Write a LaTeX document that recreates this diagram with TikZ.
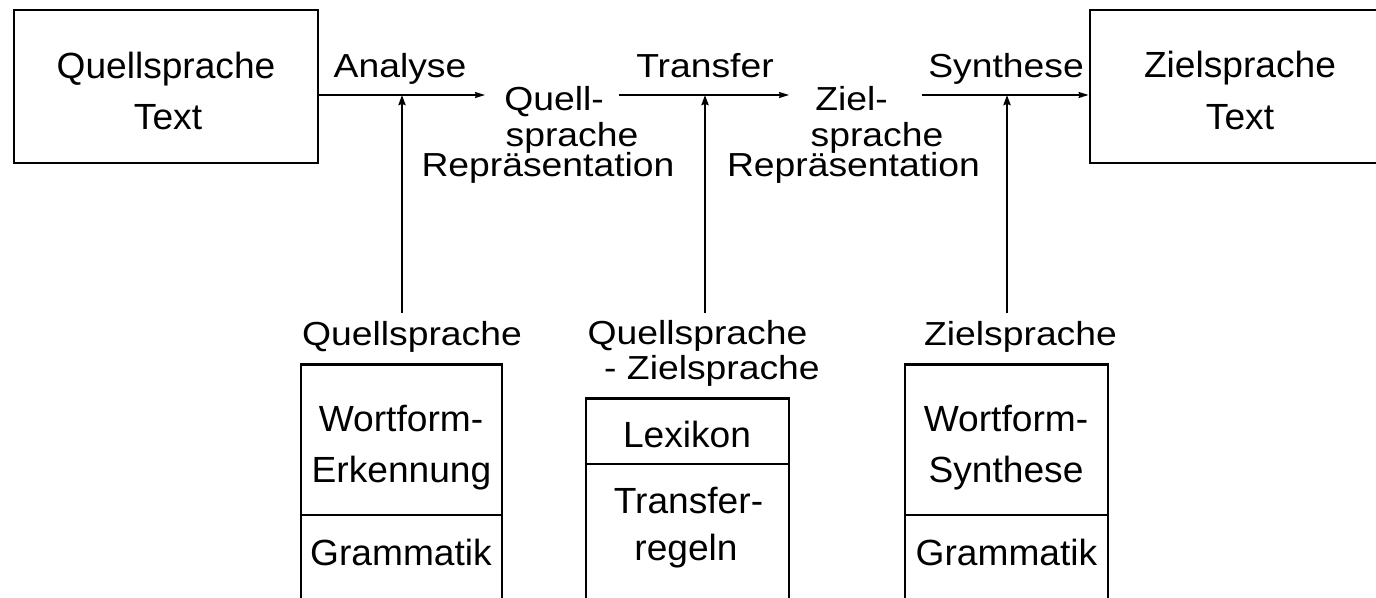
\documentclass[tikz,border=0pt]{standalone}
\usepackage{fontspec}
\setmainfont{Liberation Sans}
\newfontfamily\lblfont{Liberation Sans}[FakeStretch=1.12]
\newfontfamily\boxfont{Liberation Sans}[FakeStretch=1.02]
\usetikzlibrary{arrows.meta}
\begin{document}
\begin{tikzpicture}[x=1pt,y=-1pt,
  lbl/.style={font=\lblfont\fontsize{33.3}{36}\selectfont, inner sep=0pt, anchor=base},
  btxt/.style={font=\boxfont\fontsize{36.4}{40}\selectfont, inner sep=0pt, anchor=base},
  frame/.style={draw, line width=2.8pt, inner sep=0pt},
  harr/.style={line width=1.6pt, -{Stealth[length=10pt,width=6pt,inset=1pt]}},
  varr/.style={line width=2.3pt, -{Stealth[length=10pt,width=7pt,inset=1pt]}},
  rule/.style={line width=2.8pt}]
\useasboundingbox (0,0) rectangle (1376,597);
\clip (0,0) rectangle (1376,597);
\fill[white] (0,0) rectangle (1376,597);

% top boxes
\node[frame, minimum width=304pt, minimum height=153pt] (srcbox) at (166,86.5) {};
\node[btxt] (srcA) at (166,78) {Quellsprache};
\node[btxt] (srcB) at (168,129) {Text};
\node[frame, minimum width=300pt, minimum height=153pt] (tgtbox) at (1240,86.5) {};
\node[btxt] (tgtA) at (1240,77) {Zielsprache};
\node[btxt] (tgtB) at (1240,129) {Text};

% intermediate representations
\node[lbl] (qr1) at (554,110) {Quell-};
\node[lbl] (qr2) at (572,146) {sprache};
\node[lbl] (qr3) at (548,176) {Repräsentation};
\node[lbl] (zr1) at (851.5,110) {Ziel-};
\node[lbl] (zr2) at (877,146) {sprache};
\node[lbl] (zr3) at (853.5,176) {Repräsentation};

% process labels
\node[lbl] (ana) at (400,77) {Analyse};
\node[lbl] (tra) at (705,77) {Transfer};
\node[lbl] (syn) at (1006,77) {Synthese};

% horizontal arrows
\coordinate (h1s) at (srcbox.east |- 0,95);
\coordinate (h1e) at (485,95);
\coordinate (h2s) at (619,95);
\coordinate (h2e) at (789,95);
\coordinate (h3s) at (922,95);
\coordinate (h3e) at (tgtbox.west |- 0,95);
\draw[harr] (h1s) -- (h1e);
\draw[harr] (h2s) -- (h2e);
\draw[harr] (h3s) -- (h3e);

% resource labels
\node[lbl] (rq) at (412,345) {Quellsprache};
\node[lbl] (rqz1) at (697.5,344) {Quellsprache};
\node[lbl] (rqz2) at (712,379) {- Zielsprache};
\node[lbl] (rz) at (1020.5,345) {Zielsprache};

% vertical arrows
\coordinate (v1b) at (402,313);
\coordinate (v1t) at (402,95);
\coordinate (v2b) at (705,313);
\coordinate (v2t) at (705,95);
\coordinate (v3b) at (1007,313);
\coordinate (v3t) at (1007,95);
\draw[varr] (v1b) -- (v1t);
\draw[varr] (v2b) -- (v2t);
\draw[varr] (v3b) -- (v3t);

% bottom boxes (open at the lower edge of the picture)
\node[frame, minimum width=201pt, minimum height=250pt, anchor=north] (kb1) at (401.5,363) {};
\draw[rule] (kb1.west |- 0,515) -- (kb1.east |- 0,515);
\node[btxt] (kb1a) at (401,431) {Wortform-};
\node[btxt] (kb1b) at (401.5,482) {Erkennung};
\node[btxt] (kb1c) at (401,565) {Grammatik};

\node[frame, minimum width=203pt, minimum height=220pt, anchor=north] (kb2) at (687.5,397) {};
\draw[rule] (kb2.west |- 0,464) -- (kb2.east |- 0,464);
\node[btxt] (kb2a) at (687,447) {Lexikon};
\node[btxt] (kb2b) at (688.5,513) {Transfer-};
\node[btxt] (kb2c) at (686,560) {regeln};

\node[frame, minimum width=203pt, minimum height=250pt, anchor=north] (kb3) at (1006.5,363) {};
\draw[rule] (kb3.west |- 0,515) -- (kb3.east |- 0,515);
\node[btxt] (kb3a) at (1006,431) {Wortform-};
\node[btxt] (kb3b) at (1006,482) {Synthese};
\node[btxt] (kb3c) at (1006.5,565) {Grammatik};
\end{tikzpicture}
\end{document}
